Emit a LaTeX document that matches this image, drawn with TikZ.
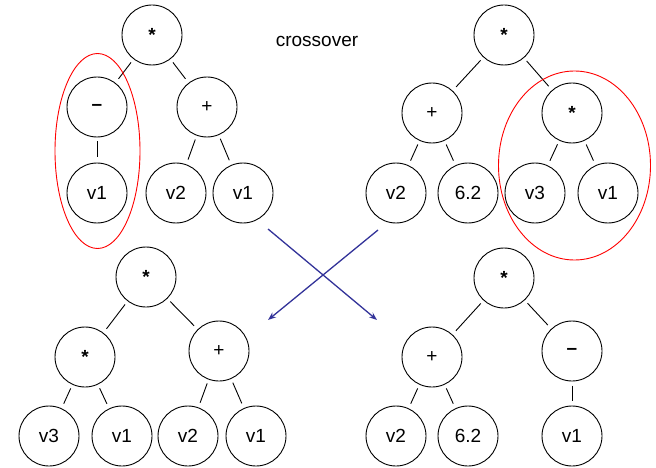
\documentclass[tikz,border=0pt]{standalone}
\usepackage{fontspec}
\setmainfont{Liberation Sans}
\usetikzlibrary{arrows.meta}
\begin{document}
\begin{tikzpicture}[x=1pt,y=-1pt,
  tn/.style={circle,draw=black,line width=0.9pt,minimum size=60pt,inner sep=0pt,outer sep=0pt,font=\fontsize{19}{22}\selectfont},
  br/.style={draw=black,line width=0.9pt,shorten <=4.5pt,shorten >=5.5pt},
  sel/.style={draw=red,line width=0.9pt},
  xarr/.style={draw={rgb,255:red,51;green,51;blue,153},line width=1.3pt,-{Stealth[length=8pt,width=6pt]}}]
\useasboundingbox (0,0) rectangle (656,468);
% top-left tree
\node[tn] (a1) at (152,35) {\bfseries *};
\node[tn] (a2) at (97,107) {\bfseries –};
\node[tn] (a3) at (207,107) {+};
\node[tn] (a4) at (97,193) {v1};
\node[tn] (a5) at (176,193) {v2};
\node[tn] (a6) at (243,193) {v1};
\draw[br] (a1) -- (a2);
\draw[br] (a1) -- (a3);
\draw[br] (a2) -- (a4);
\draw[br] (a3) -- (a5);
\draw[br] (a3) -- (a6);
\draw[sel] (97.5,151) ellipse [x radius=42.5, y radius=97.5];
% top-right tree
\node[tn] (b1) at (504,35) {\bfseries *};
\node[tn] (b2) at (432,113) {+};
\node[tn] (b3) at (572,113) {\bfseries *};
\node[tn] (b4) at (396,193) {v2};
\node[tn] (b5) at (468,193) {6.2};
\node[tn] (b6) at (535,193) {v3};
\node[tn] (b7) at (608,193) {v1};
\draw[br] (b1) -- (b2);
\draw[br] (b1) -- (b3);
\draw[br] (b2) -- (b4);
\draw[br] (b2) -- (b5);
\draw[br] (b3) -- (b6);
\draw[br] (b3) -- (b7);
\draw[sel] (574.5,165.5) ellipse [x radius=76, y radius=94.5];
% label
\node[font=\fontsize{19}{22}\selectfont] (lbl) at (317,41) {crossover};
% bottom-left tree
\node[tn] (c1) at (146,277) {\bfseries *};
\node[tn] (c2) at (85,357) {\bfseries *};
\node[tn] (c3) at (219,351) {+};
\node[tn] (c4) at (49,436) {v3};
\node[tn] (c5) at (122,436) {v1};
\node[tn] (c6) at (188,436) {v2};
\node[tn] (c7) at (256,436) {v1};
\draw[br] (c1) -- (c2);
\draw[br] (c1) -- (c3);
\draw[br] (c2) -- (c4);
\draw[br] (c2) -- (c5);
\draw[br] (c3) -- (c6);
\draw[br] (c3) -- (c7);
% bottom-right tree
\node[tn] (d1) at (504,278) {\bfseries *};
\node[tn] (d2) at (432,357) {+};
\node[tn] (d3) at (572,351) {\bfseries –};
\node[tn] (d4) at (396,436) {v2};
\node[tn] (d5) at (468,436) {6.2};
\node[tn] (d6) at (572,436) {v1};
\draw[br] (d1) -- (d2);
\draw[br] (d1) -- (d3);
\draw[br] (d2) -- (d4);
\draw[br] (d2) -- (d5);
\draw[br] (d3) -- (d6);
% crossing arrows
\coordinate (p1) at (268,229);
\coordinate (p2) at (377,320);
\coordinate (p3) at (378,230);
\coordinate (p4) at (268,320);
\draw[xarr] (p1) -- (p2);
\draw[xarr] (p3) -- (p4);
\end{tikzpicture}
\end{document}
